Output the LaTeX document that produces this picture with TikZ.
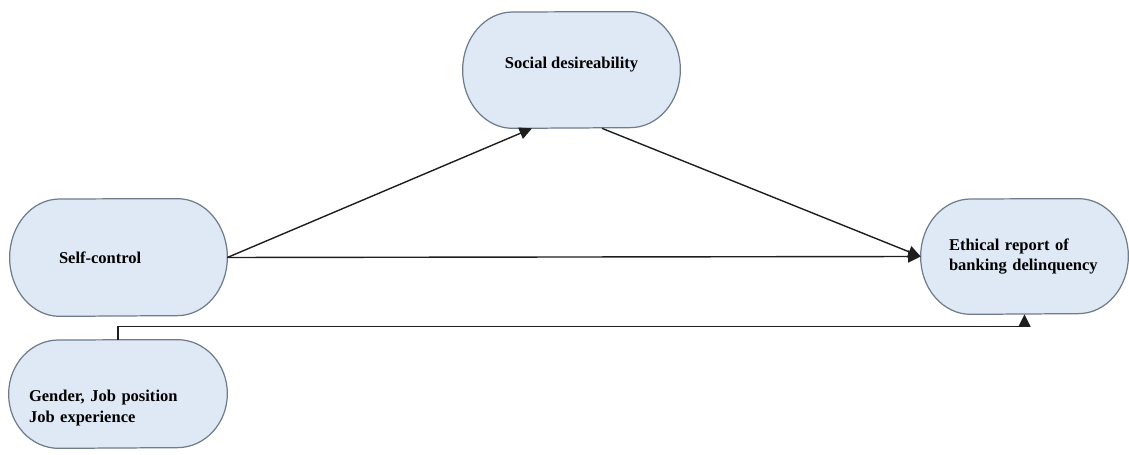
\documentclass[tikz,border=0pt]{standalone}
\usepackage{fontspec}
\setmainfont{Liberation Serif}
\usetikzlibrary{arrows.meta,backgrounds}
\definecolor{pillfill}{RGB}{222,233,245}
\definecolor{pillline}{RGB}{110,124,140}
\definecolor{arrowline}{RGB}{30,30,30}
\newcommand{\pillrx}{1.0cm}
\newcommand{\pill}[2]{%
  \draw[pillshape] (#1.west)
    arc[start angle=180, end angle=90, x radius=\pillrx, y radius=#2]
    -- ([xshift=-\pillrx]#1.north east)
    arc[start angle=90, end angle=-90, x radius=\pillrx, y radius=#2]
    -- ([xshift=\pillrx]#1.south west)
    arc[start angle=270, end angle=180, x radius=\pillrx, y radius=#2] -- cycle;}
\newcommand{\movetext}[2]{\raisebox{#1}[0pt][0pt]{\begin{tabular}{@{}l@{}}#2\end{tabular}}}
\tikzset{
  box/.style={rectangle, inner sep=0pt, minimum width=4.34cm, align=left,
    font=\bfseries\fontsize{9.4}{11.5}\selectfont},
  pillshape/.style={draw=pillline, fill=pillfill, line width=0.7pt},
  link/.style={draw=arrowline, line width=0.8pt,
    -{Triangle[length=0.25cm, width=0.24cm]}}
}
\begin{document}
\begin{tikzpicture}
  \useasboundingbox (0,0) rectangle (22.58,9.10);
  \node[box, minimum height=2.32cm, align=center] (sd) at (11.43,7.70)
    {\movetext{0.03cm}{Social desireability}};
  \node[box, minimum height=2.34cm, text width=2.38cm] (sc) at (2.37,3.95) {Self-control};
  \node[box, minimum height=2.30cm, minimum width=4.14cm, text width=3.02cm] (er) at (20.49,3.97)
    {Ethical report of\\banking delinquency};
  \node[box, minimum height=2.16cm, minimum width=4.36cm, text width=3.56cm] (gj) at (2.36,1.22)
    {\movetext{-0.36cm}{Gender, Job position\\Job experience}};
  \begin{scope}[on background layer]
    \pill{sd}{1.16cm}
    \pill{sc}{1.17cm}
    \pill{er}{1.15cm}
    \pill{gj}{1.08cm}
  \end{scope}
  \draw[link] (sc.east) -- ([xshift=-0.79cm]sd.south);
  \draw[link] ([xshift=0.61cm]sd.south) -- (er.west);
  \draw[link] (sc.east) -- (er.west);
  \draw[link] (gj.north) -- ++(0,0.26) -| (er.south);
\end{tikzpicture}
\end{document}
